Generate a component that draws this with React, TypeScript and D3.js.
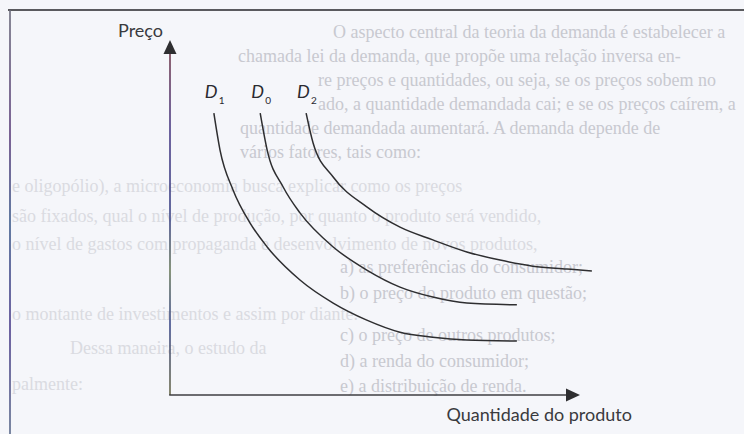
import React from 'react';
import * as d3 from 'd3';

const WIDTH = 744;
const HEIGHT = 434;

// Demand curves: quantity (x) and price (y) readings, in axis units (0–10)
const curveLabels = ['1', '0', '2'];
const d1Quantity = [1.07, 1.22, 1.54, 1.95, 2.37, 3.17, 3.98, 4.8, 5.61, 6.41, 7.24, 8.46];
const d1Price = [7.94, 6.9, 5.77, 4.85, 4.17, 3.24, 2.59, 2.11, 1.77, 1.63, 1.55, 1.52];
const d0Quantity = [2.2, 2.37, 2.76, 3.17, 3.98, 4.8, 5.61, 6.41, 7.24, 8.46];
const d0Price = [7.94, 6.9, 5.86, 5.13, 4.17, 3.52, 3.04, 2.76, 2.59, 2.54];
const d2Quantity = [3.32, 3.49, 3.98, 4.8, 5.61, 6.41, 7.24, 8.05, 8.85, 9.68, 10.29];
const d2Price = [7.94, 7.1, 6.14, 5.3, 4.73, 4.37, 4.03, 3.8, 3.63, 3.55, 3.49];

const axisTitleY = 'Preço';
const axisTitleX = 'Quantidade do produto';

// Book page showing behind the diagram
const pageLines = [
  { text: 'O aspecto central da teoria da demanda é estabelecer a', x: 333, y: 38, tone: 0 },
  { text: 'chamada lei da demanda, que propõe uma relação inversa en-', x: 238, y: 62, tone: 0 },
  { text: 're preços e quantidades, ou seja, se os preços sobem no', x: 318, y: 86, tone: 0 },
  { text: 'ado, a quantidade demandada cai; e se os preços caírem, a', x: 318, y: 110, tone: 0 },
  { text: 'quantidade demandada aumentará. A demanda depende de', x: 240, y: 134, tone: 0 },
  { text: 'vários fatores, tais como:', x: 240, y: 158, tone: 0 },
  { text: 'e oligopólio), a microeconomia busca explicar como os preços', x: 12, y: 192, tone: 1 },
  { text: 'são fixados, qual o nível de produção, por quanto o produto será vendido,', x: 12, y: 222, tone: 1 },
  { text: 'o nível de gastos com propaganda e desenvolvimento de novos produtos,', x: 12, y: 250, tone: 1 },
  { text: 'a)  as preferências do consumidor;', x: 340, y: 273, tone: 0 },
  { text: 'b)  o preço do produto em questão;', x: 340, y: 299, tone: 0 },
  { text: 'o montante de investimentos e assim por diante.', x: 12, y: 320, tone: 1 },
  { text: 'c)  o preço de outros produtos;', x: 340, y: 341, tone: 0 },
  { text: 'Dessa maneira, o estudo da', x: 70, y: 354, tone: 1 },
  { text: 'd)  a renda do consumidor;', x: 340, y: 367, tone: 0 },
  { text: 'palmente:', x: 12, y: 390, tone: 1 },
  { text: 'e)  a distribuição de renda.', x: 340, y: 392, tone: 0 },
];

export default function App() {
  const x = d3.scaleLinear().domain([0, 10]).range([170, 580]);
  const y = d3.scaleLinear().domain([0, 10]).range([395, 40]);

  const series = [
    { q: d1Quantity, p: d1Price },
    { q: d0Quantity, p: d0Price },
    { q: d2Quantity, p: d2Price },
  ];

  const line = d3
    .line<[number, number]>()
    .x((d) => x(d[0]))
    .y((d) => y(d[1]))
    .curve(d3.curveMonotoneX);

  const x0 = x(0);
  const y0 = y(0);
  const xTip = x(10);
  const yTip = y(10);
  const head = 14;
  const half = 6.5;

  const ink = '#2e2e30';

  return (
    <svg
      width={WIDTH}
      height={HEIGHT}
      style={{ position: 'absolute', left: 0, top: 0, background: '#f5f6fa' }}
    >
      <defs>
        <linearGradient id="axisTint" gradientUnits="userSpaceOnUse" x1="0" y1={yTip} x2="0" y2={y0}>
          <stop offset="0" stopColor="#7a3c44" />
          <stop offset="0.25" stopColor="#4a3c86" />
          <stop offset="0.5" stopColor="#3c4486" />
          <stop offset="0.65" stopColor="#6a7a5a" />
          <stop offset="0.8" stopColor="#3c4a8a" />
          <stop offset="1" stopColor="#6a6a4a" />
        </linearGradient>
        <linearGradient id="frameTint" gradientUnits="userSpaceOnUse" x1="0" y1="10" x2="0" y2={HEIGHT}>
          <stop offset="0" stopColor="#6a6a7a" />
          <stop offset="0.3" stopColor="#5a3c7a" />
          <stop offset="0.5" stopColor="#3c5a8a" />
          <stop offset="0.75" stopColor="#4a3c8a" />
          <stop offset="1" stopColor="#5a6a8a" />
        </linearGradient>
      </defs>

      <rect x={0} y={0} width={WIDTH} height={HEIGHT} fill="#f5f6fa" />

      <g fontFamily="'Liberation Serif', 'DejaVu Serif', serif" fontSize={18}>
        {pageLines.map((l, i) => (
          <text key={i} x={l.x} y={l.y} fill={l.tone === 0 ? '#c8c9d0' : '#dadbe1'}>
            {l.text}
          </text>
        ))}
      </g>

      {/* page frame */}
      <line x1={8} y1={10} x2={WIDTH} y2={10} stroke="#5a5a5e" strokeWidth={2} />
      <line x1={10} y1={10} x2={10} y2={HEIGHT} stroke="url(#frameTint)" strokeWidth={1.6} />

      {/* axes */}
      <line x1={x0} y1={y0} x2={x0} y2={yTip + head - 1} stroke="url(#axisTint)" strokeWidth={1.6} />
      <path d={`M${x0},${yTip} L${x0 - half},${yTip + head} L${x0 + half},${yTip + head} Z`} fill={ink} />
      <line x1={x0 - 0.8} y1={y0} x2={xTip - head + 1} y2={y0} stroke="#3e3e42" strokeWidth={1.6} />
      <path d={`M${xTip},${y0} L${xTip - head},${y0 - half} L${xTip - head},${y0 + half} Z`} fill={ink} />

      <g fontFamily="Lato, 'Open Sans', sans-serif" fill="#3a3a3e">
        <text x={x0 - 7} y={37} textAnchor="end" fontSize={18}>
          {axisTitleY}
        </text>
        <text x={632} y={421} textAnchor="end" fontSize={18}>
          {axisTitleX}
        </text>
      </g>

      {/* demand curves */}
      {series.map((s, i) => {
        const pts = s.q.map((q, j) => [q, s.p[j]] as [number, number]);
        return (
          <path key={i} d={line(pts) ?? ''} fill="none" stroke={ink} strokeWidth={1.5} />
        );
      })}

      {/* curve labels */}
      <g fontFamily="Lato, 'Open Sans', sans-serif" fill="#2a2a30">
        {series.map((s, i) => {
          const lx = x(s.q[0]);
          const ly = y(s.p[0]);
          return (
            <g key={i}>
              <text x={lx - 9} y={ly - 15} fontSize={18} fontStyle="italic">
                D
              </text>
              <text x={lx + 5} y={ly - 9} fontSize={10}>
                {curveLabels[i]}
              </text>
            </g>
          );
        })}
      </g>
    </svg>
  );
}
